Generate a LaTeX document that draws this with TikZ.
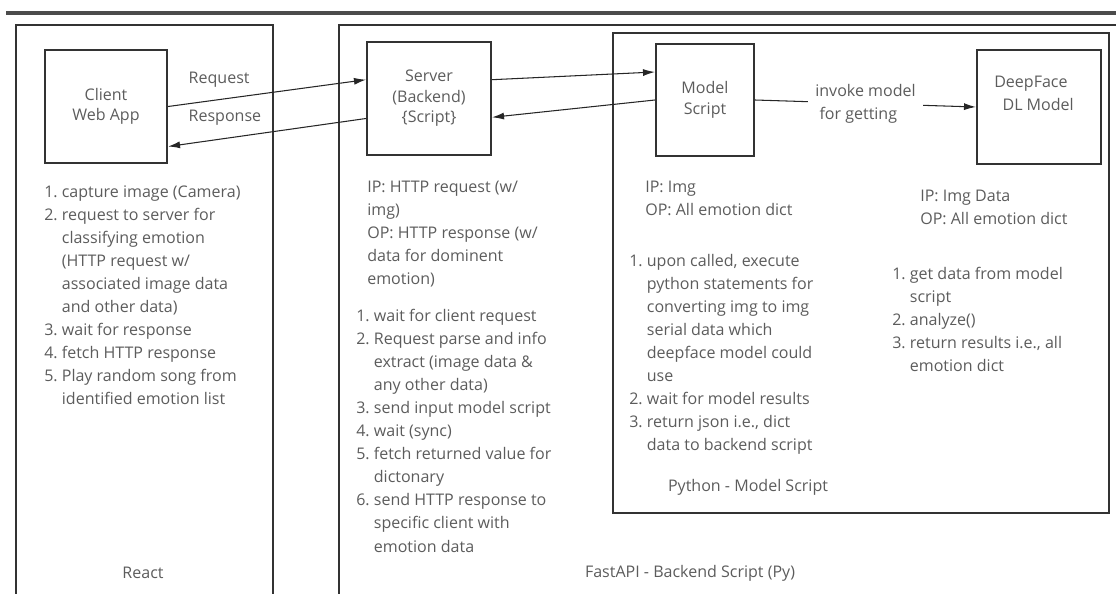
\documentclass[tikz,border=0pt]{standalone}
\usepackage{fontspec}
\setmainfont{Open Sans}
\usetikzlibrary{arrows.meta}
\definecolor{txtgray}{HTML}{5C5C5C}
\definecolor{linegray}{HTML}{333333}

\begin{document}
\begin{tikzpicture}[x=0.025cm, y=-0.025cm,
    comp/.style={draw=linegray, line width=1.5pt, align=center, text=txtgray,
        font=\fontsize{11.4}{14.5}\selectfont, inner sep=0pt},
    info/.style={anchor=north west, align=left, text=txtgray, inner sep=0pt,
        font=\fontsize{11.4}{16.4}\selectfont},
    lbl/.style={text=txtgray, font=\fontsize{11.4}{16.4}\selectfont, inner sep=1pt},
    flow/.style={-{Latex[length=8.5pt,width=5pt]}, line width=0.75pt, black!85},
    frame/.style={draw=linegray, line width=1.5pt}]
    \useasboundingbox (0,0) rectangle (1116,593);
    %top rule
    \draw [line width=2.2pt, black!70] (6,13) -- (1116,13);

    %react
    \draw [frame] (16,600) |- (273,25) -- (273,600);
    \node[comp, minimum width=3.05cm, minimum height=2.825cm] (client) at (106,106.5)
         {Client\\Web App};
    \node[info] (clientsteps) at (44,181) %
         {\begin{tabular}{@{}r@{\ }l@{}}
          1. & capture image (Camera)\\
          2. & request to server for\\
             & classifying emotion\\
             & (HTTP request w/\\
             & associated image data\\
             & and other data)\\
          3. & wait for response\\
          4. & fetch HTTP response\\
          5. & Play random song from\\
             & identified emotion list
          \end{tabular}};
    \node[lbl] (react) at (143,573) {React};

    %fastapi
    \draw [frame] (339,600) |- (1125,25);
    \node[comp, minimum width=3.1cm, minimum height=2.825cm] (server) at (429,98.5)
         {Server\\(Backend)\\\{Script\}};
    \node[info] (serverio) at (367,181) %
         {IP: HTTP request (w/\\img)\\OP: HTTP response (w/\\data for dominent\\emotion)};
    \node[info] (serversteps) at (356,305) %
         {\begin{tabular}{@{}r@{\ }l@{}}
          1. & wait for client request\\
          2. & Request parse and info\\
             & extract (image data \&\\
             & any other data)\\
          3. & send input model script\\
          4. & wait (sync)\\
          5. & fetch returned value for\\
             & dictonary\\
          6. & send HTTP response to\\
             & specific client with\\
             & emotion data
          \end{tabular}};
    \node[lbl] (fastapi) at (690,573) {FastAPI - Backend Script (Py)};

    %python
    \draw [frame] (613,33) rectangle (1109,513);
    \node[comp, minimum width=2.45cm, minimum height=2.8cm] (model) at (705,100)
         {Model\\Script};
    \node[info] (modelio) at (645,181) %
         {IP: Img\\OP: All emotion dict};
    \node[info] (modelsteps) at (629,250) %
         {\begin{tabular}{@{}r@{\ }l@{}}
          1. & upon called, execute\\
             & python statements for\\
             & converting img to img\\
             & serial data which\\
             & deepface model could\\
             & use\\
          2. & wait for model results\\
          3. & return json i.e., dict\\
             & data to backend script
          \end{tabular}};
    \node[lbl] (python) at (748,487) {Python - Model Script};

    \node[comp, minimum width=3.1cm, minimum height=2.85cm] (deepface) at (1039,107) {};
    \node[lbl, align=left] (deepfacename) at (1034,93) {DeepFace\\\ \ DL Model};
    \node[info] (deepfaceio) at (920,190) %
         {IP: Img Data\\OP: All emotion dict};
    \node[info] (deepfacesteps) at (892,263) %
         {\begin{tabular}{@{}r@{\ }l@{}}
          1. & get data from model\\
             & script\\
          2. & analyze()\\
          3. & return results i.e., all\\
             & emotion dict
          \end{tabular}};

    %connectors
    \draw [flow] (client.east) -- ([yshift=0.47cm]server.west);
    \draw [flow] ([yshift=-0.5cm]server.west) -- ([yshift=-1cm]client.east);
    \node[lbl, anchor=west] (reqlbl) at (187,80) {Request};
    \node[lbl, anchor=west] (resplbl) at (187,118) {Response};
    \draw [flow] ([yshift=0.47cm]server.east) -- ([yshift=0.7cm]model.west);
    \draw [flow] (model.west) -- ([yshift=-0.47cm]server.east);
    \draw [flow] (model.east) -- node[lbl, fill=white, align=left, inner sep=5pt] (invoke)
         {invoke model\\\ for getting} (deepface.west);
\end{tikzpicture}
\end{document}
